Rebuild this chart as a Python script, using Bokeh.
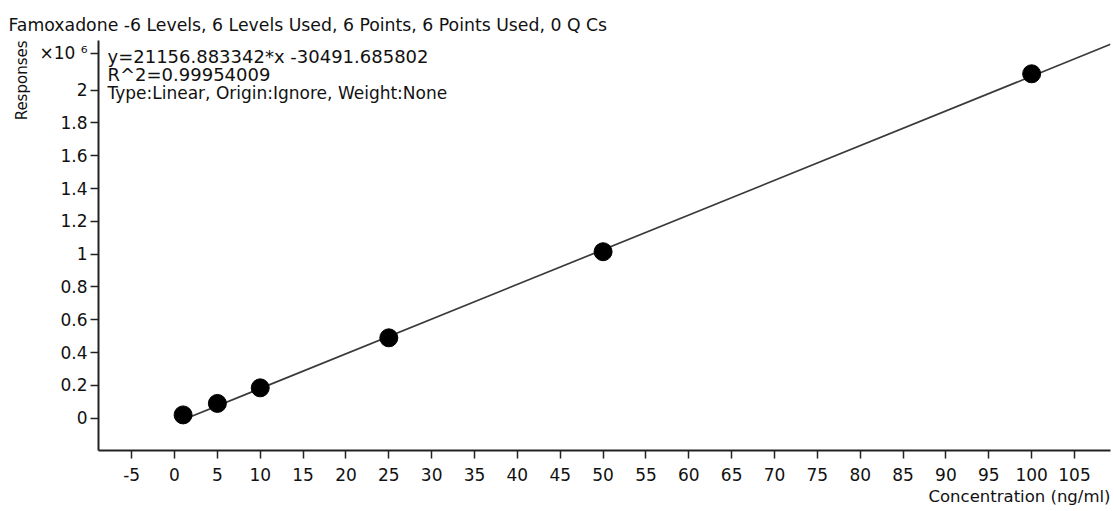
from bokeh.plotting import figure
from bokeh.models import (ColumnDataSource, FixedTicker, CustomJSTickFormatter,
                          Label, Range1d, Title)
from bokeh.embed import file_html
from bokeh.resources import INLINE

# ---- data ----
compound = "Famoxadone"
concentration = [1, 5, 10, 25, 50, 100]               # ng/ml
responses_e6 = [0.02, 0.09, 0.185, 0.49, 1.015, 2.10]  # x10^6
slope = 21156.883342
intercept = -30491.685802
x_ticks = list(range(-5, 110, 5))
y_ticks = [0, 0.2, 0.4, 0.6, 0.8, 1, 1.2, 1.4, 1.6, 1.8, 2]
exp_tick = 2.224
title_text = "Famoxadone -6 Levels, 6 Levels Used, 6 Points, 6 Points Used, 0 Q Cs"
eq_text = "y=21156.883342*x -30491.685802"
r2_text = "R^2=0.99954009"
type_text = "Type:Linear, Origin:Ignore, Weight:None"
x_label = "Concentration (ng/ml)"
y_label = "Responses"

FONT = "DejaVu Sans"
INK = "#111111"

x_start, x_end = -8.87, 109.2
y_start, y_end = -0.197, 2.303

p = figure(frame_width=1012, frame_height=410,
           min_border_left=98, min_border_right=4,
           min_border_top=40, min_border_bottom=61,
           x_range=Range1d(x_start, x_end), y_range=Range1d(y_start, y_end),
           output_backend="svg", toolbar_location=None, tools="")
p.outline_line_color = None
p.grid.visible = False
p.background_fill_color = "white"
p.border_fill_color = "white"

for ax in (p.xaxis[0], p.yaxis[0]):
    ax.axis_line_color = "#222222"
    ax.axis_line_width = 2
    ax.major_tick_line_color = "#222222"
    ax.major_tick_line_width = 1.5
    ax.major_tick_out = 8
    ax.major_tick_in = 0
    ax.minor_tick_line_color = None
    ax.major_label_text_font = FONT
    ax.major_label_text_font_size = "17px"
    ax.major_label_text_color = INK

p.xaxis.major_label_standoff = 9
p.yaxis.major_label_standoff = 3
p.xaxis.ticker = FixedTicker(ticks=x_ticks)
p.xaxis.formatter = CustomJSTickFormatter(code="return String(tick);")
p.yaxis.ticker = FixedTicker(ticks=y_ticks + [exp_tick])
p.yaxis.formatter = CustomJSTickFormatter(
    code="if (tick > 2.1) { return '\u00d710 \u2076'; } return String(Math.round(tick*10)/10);")

# regression line from the first level to the axis end
lx = [min(concentration), x_end]
ly = [(slope * v + intercept) / 1e6 for v in lx]
p.line(lx, ly, line_color="#3a3a3a", line_width=1.7)

src = ColumnDataSource(dict(x=concentration, y=responses_e6))
p.scatter("x", "y", source=src, size=18, fill_color="black", line_color="black")

# fit text inside the frame (frame-relative screen units)
FL, FB = 98, 450


def lab(text, px, py, size):
    p.add_layout(Label(x=px - FL, y=FB - py, x_units="screen", y_units="screen",
                       text=text, text_font=FONT, text_font_size=size,
                       text_align="left", text_baseline="alphabetic",
                       text_color=INK))


lab(eq_text, 107, 56, "18px")
lab(r2_text, 107, 74, "18px")
lab(type_text, 107, 92, "17px")

# title, axis titles
p.title.text = title_text
p.title.align = "left"
p.title.offset = -90
p.title.text_font = FONT
p.title.text_font_size = "17.3px"
p.title.text_font_style = "normal"
p.title.text_color = INK
p.title.standoff = 11

p.add_layout(Title(text=y_label, align="right", text_font=FONT, text_font_size="15px",
                   text_font_style="normal", text_color=INK, standoff=12), "left")
p.add_layout(Title(text=x_label, align="right", text_font=FONT, text_font_size="16.5px",
                   text_font_style="normal", text_color=INK, standoff=3), "below")

open("out.html", "w").write(file_html(p, INLINE))
